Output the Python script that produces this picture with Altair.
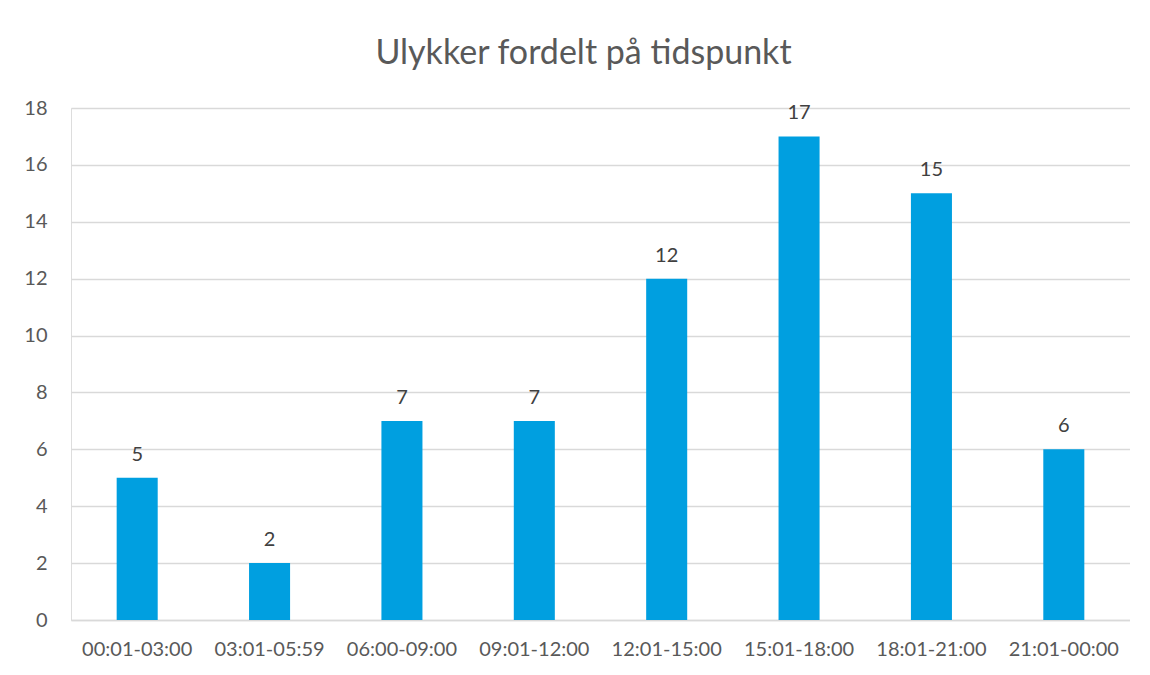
import altair as alt
import pandas as pd

categories = ["00:01-03:00", "03:01-05:59", "06:00-09:00", "09:01-12:00",
              "12:01-15:00", "15:01-18:00", "18:01-21:00", "21:01-00:00"]
values = [5, 2, 7, 7, 12, 17, 15, 6]

df = pd.DataFrame({"tid": categories, "antall": values})

FONT = "Lato"
GREY = "#595959"

base = alt.Chart(df).encode(
    x=alt.X("tid:N", sort=categories,
            scale=alt.Scale(paddingInner=0.69, paddingOuter=0.345),
            axis=alt.Axis(title=None, labelAngle=0, labelFontSize=20, labelFont=FONT,
                          labelColor=GREY, ticks=False, domainColor="#d9d9d9",
                          domainWidth=1.5, labelPadding=19)),
    y=alt.Y("antall:Q", scale=alt.Scale(domain=[0, 18]),
            axis=alt.Axis(title=None, values=list(range(0, 19, 2)), labelFontSize=20,
                          labelFont=FONT, labelColor=GREY, ticks=False, domain=False,
                          gridColor="#d9d9d9", gridWidth=1.5, labelPadding=24)),
)

bars = base.mark_bar(color="#009FE0")
labels = base.mark_text(dy=-23, fontSize=20, font=FONT, color="#404040").encode(
    text="antall:Q")

chart = (bars + labels).properties(
    width=1059, height=512,
    autosize=alt.AutoSizeParams(type="none"),
    padding={"left": 63, "top": 100, "right": 0, "bottom": 40},
    title=alt.TitleParams("Ulykker fordelt på tidspunkt", fontSize=34, font=FONT,
                          color=GREY, fontWeight="normal", anchor="middle",
                          offset=27, dx=-17),
).configure_view(stroke=None).configure(background="white")

chart.save("out.html", embed_options={"renderer": "svg", "actions": False})
